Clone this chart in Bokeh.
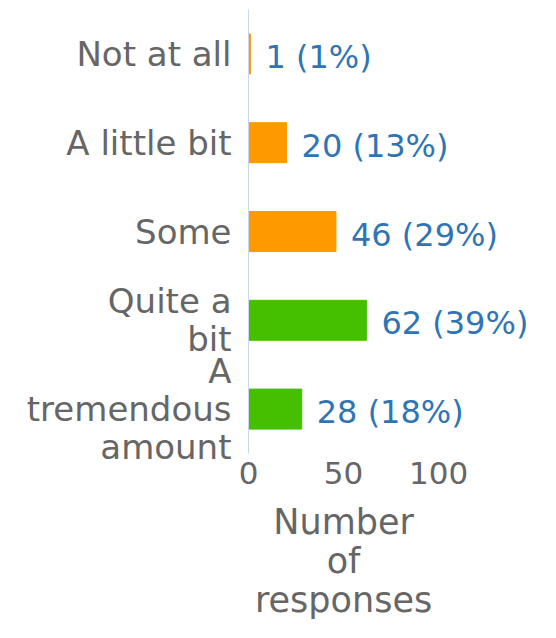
from bokeh.plotting import figure
from bokeh.models import ColumnDataSource, LabelSet, FixedTicker, Range1d, FactorRange, LinearAxis
from bokeh.core.properties import value
from bokeh.embed import file_html
from bokeh.resources import INLINE

categories = ["Not at all", "A little bit", "Some", "Quite a\nbit", "A\ntremendous\namount"]
counts = [1, 20, 46, 62, 28]
percents = [1, 13, 29, 39, 18]
colors = ["#FF9900", "#FF9900", "#FF9900", "#44C000", "#44C000"]
x_ticks = [0, 50, 100]
x_title = "Number\nof\nresponses"
x_title_pos = 50

labels = [f"{c} ({p}%)" for c, p in zip(counts, percents)]
src = ColumnDataSource(dict(cat=categories, val=counts, lab=labels, col=colors))

FONT = "DejaVu Sans"
GRAY = "#666666"

p = figure(width=540, height=622, output_backend="svg", toolbar_location=None,
           y_range=FactorRange(*categories[::-1]), x_range=Range1d(0, 152),
           min_border_left=248, min_border_right=3, min_border_top=9, min_border_bottom=168)
p.outline_line_color = None
p.xgrid.visible = False
p.ygrid.visible = False

p.hbar(y="cat", right="val", left=0, height=0.45, color="col", source=src)

ls = LabelSet(x="val", y="cat", text="lab", source=src, x_offset=15, y_offset=-3,
              text_color="#2F75B5", text_font=value(FONT), text_font_size="32px",
              text_baseline="middle", text_align="left")
p.add_layout(ls)

ya = p.yaxis[0]
ya.axis_line_color = "#CCD6EB"
ya.axis_line_width = 1
ya.major_tick_line_color = None
ya.minor_tick_line_color = None
ya.major_label_text_color = GRAY
ya.major_label_text_font = FONT
ya.major_label_text_font_size = "34px"
ya.major_label_text_line_height = 0.95
ya.major_label_standoff = 11

xa = p.xaxis[0]
xa.ticker = FixedTicker(ticks=x_ticks)
xa.axis_line_color = None
xa.major_tick_line_color = None
xa.minor_tick_line_color = None
xa.major_label_text_color = GRAY
xa.major_label_text_font = FONT
xa.major_label_text_font_size = "31px"
xa.major_label_standoff = 2

xt = LinearAxis(ticker=FixedTicker(ticks=[x_title_pos]),
                major_label_overrides={x_title_pos: x_title})
xt.axis_line_color = None
xt.major_tick_line_color = None
xt.minor_tick_line_color = None
xt.major_label_text_color = GRAY
xt.major_label_text_font = FONT
xt.major_label_text_font_size = "35px"
xt.major_label_text_line_height = 0.98
xt.major_label_standoff = 9
p.add_layout(xt, "below")

open("out.html", "w").write(file_html(p, INLINE))
